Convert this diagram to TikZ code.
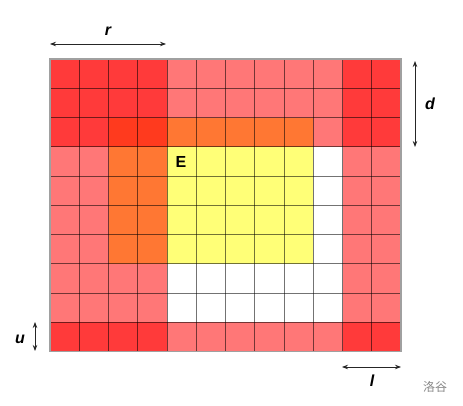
\documentclass[tikz,border=0pt]{standalone}
\usepackage{fontspec}
\setsansfont{Liberation Sans}
\newfontfamily\cjkfont{Noto Sans CJK SC}
\usetikzlibrary{arrows.meta}
\definecolor{cred}{HTML}{FF3A3A}
\definecolor{cpink}{HTML}{FF7777}
\definecolor{corange}{HTML}{FF7733}
\definecolor{credor}{HTML}{FF3A1E}
\definecolor{cyellow}{HTML}{FFFF77}
\definecolor{cgray}{HTML}{888888}
\begin{document}
\begin{tikzpicture}[x=1pt,y=-1pt,
  lbl/.style={font=\sffamily\bfseries\itshape\fontsize{16}{16}\selectfont, inner sep=0pt},
  dimarrow/.style={{Stealth[length=6pt,width=4.5pt]}-{Stealth[length=6pt,width=4.5pt]}, line width=0.8pt, black!85},
  gridline/.style={black, opacity=0.55, line width=0.8pt}]
\useasboundingbox (0,0) rectangle (463,406);
\def\cw{29.25}
\def\ch{29.27}
\newcommand\blockfill[5]{\fill[#5] ({50+#1*\cw},{59+#3*\ch}) rectangle ({50+#2*\cw},{59+#4*\ch});}
% red
\blockfill{0}{4}{0}{2}{cred}
\blockfill{0}{2}{2}{3}{cred}
\blockfill{10}{12}{0}{3}{cred}
\blockfill{0}{4}{9}{10}{cred}
\blockfill{10}{12}{9}{10}{cred}
% pink
\blockfill{4}{10}{0}{2}{cpink}
\blockfill{9}{10}{2}{3}{cpink}
\blockfill{0}{2}{3}{7}{cpink}
\blockfill{0}{4}{7}{9}{cpink}
\blockfill{10}{12}{3}{9}{cpink}
\blockfill{4}{10}{9}{10}{cpink}
% red-orange
\blockfill{2}{4}{2}{3}{credor}
% orange
\blockfill{4}{9}{2}{3}{corange}
\blockfill{2}{4}{3}{7}{corange}
% yellow
\blockfill{4}{9}{3}{7}{cyellow}
% grid
\foreach \i in {1,...,11} \draw[gridline] ({50+\i*\cw},59) -- ({50+\i*\cw},{59+10*\ch});
\foreach \j in {1,...,9} \draw[gridline] (50,{59+\j*\ch}) -- ({50+12*\cw},{59+\j*\ch});
\draw[cgray!80, line width=1.2pt] (50,59) rectangle ({50+12*\cw},{59+10*\ch});
% dimension arrows
\coordinate (r1) at (50,44); \coordinate (r2) at (166,44);
\coordinate (d1) at (415,61); \coordinate (d2) at (415,147);
\coordinate (l1) at (342,367); \coordinate (l2) at (401,367);
\coordinate (u1) at (35,322); \coordinate (u2) at (35,351);
\draw[dimarrow] (r1) -- (r2);
\draw[dimarrow] (d1) -- (d2);
\draw[dimarrow] (l1) -- (l2);
\draw[dimarrow] (u1) -- (u2);
\node[lbl] (rl) at (108,31) {r};
\node[lbl] (dl) at (430,104) {d};
\node[lbl] (ll) at (372,381) {l};
\node[lbl] (ul) at (20,339) {u};
\node[font=\sffamily\bfseries\fontsize{16}{16}\selectfont, inner sep=0pt] (E) at (181,162) {E};
\node[font=\cjkfont\fontsize{12}{12}\selectfont, text=cgray, inner sep=0pt] (wm) at (435,387) {洛谷};
\end{tikzpicture}
\end{document}
